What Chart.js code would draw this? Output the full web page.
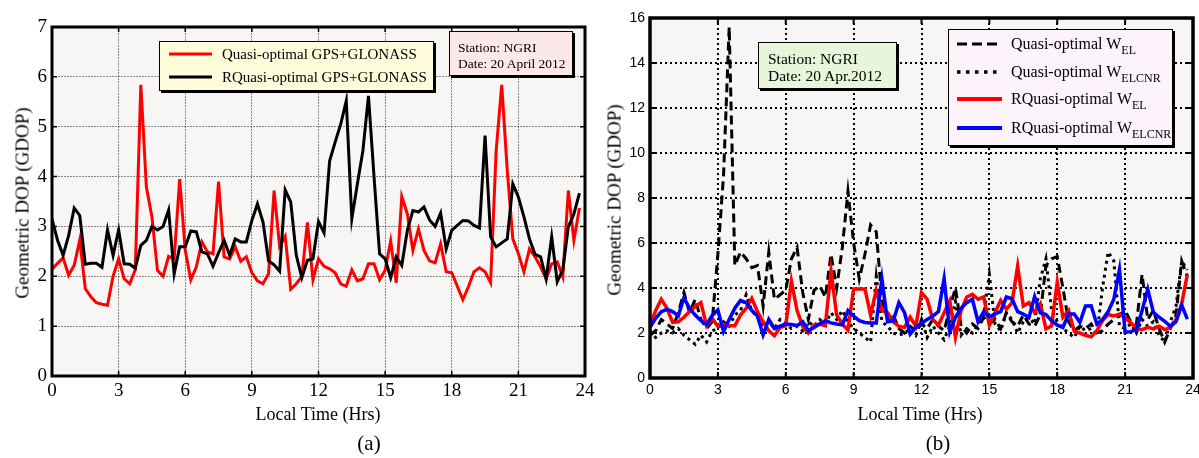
<!DOCTYPE html>
<html>
<head>
<meta charset="utf-8">
<script src="https://cdn.jsdelivr.net/npm/chart.js@4.4.1/dist/chart.umd.min.js"></script>
<style>
  html, body { margin:0; padding:0; background:#fff; }
  body { width:1199px; height:458px; position:relative; overflow:hidden; font-family:"Liberation Serif","DejaVu Serif",serif; color:#000; }
  canvas { position:absolute; top:0; }
  .ytitle { position:absolute; transform:translate(-50%,-50%) rotate(-90deg); white-space:nowrap; font-size:19px; line-height:19px; }
  .xtitle { position:absolute; transform:translateX(-50%); white-space:nowrap; font-size:18px; line-height:18px; }
  .panel { position:absolute; transform:translateX(-50%); font-size:21px; line-height:21px; }
  .box { position:absolute; border:1px solid #000; box-shadow:2px 2px 0 #000; box-sizing:border-box; }
  .row { position:absolute; left:0; height:20px; display:flex; align-items:center; white-space:nowrap; }
  sub { font-size:12px; vertical-align:-5px; line-height:0; }
</style>
</head>
<body>
<canvas id="cA" width="600" height="458" style="left:0"></canvas>
<canvas id="cB" width="599" height="458" style="left:600px"></canvas>

<!-- panel (a) texts -->
<div class="ytitle" style="left:22px; top:203px;">Geometric DOP (GDOP)</div>
<div class="xtitle" style="left:318px; top:405px;">Local Time (Hrs)</div>
<div class="panel" style="left:369px; top:433px;">(a)</div>

<div class="box" style="left:159px; top:41px; width:275px; height:50px; background:#fffcdc;">
  <div class="row" style="top:2px;"><svg width="53" height="20" style="margin-left:9px"><line x1="0" y1="10" x2="43" y2="10" stroke="#ff0000" stroke-width="3"/></svg><span id="legA0" style="font-size:15px;"></span></div>
  <div class="row" style="top:25px;"><svg width="53" height="20" style="margin-left:9px"><line x1="0" y1="10" x2="43" y2="10" stroke="#000" stroke-width="3"/></svg><span id="legA1" style="font-size:15px;"></span></div>
</div>

<div class="box" style="left:449px; top:31px; width:124px; height:45px; background:#fde8e8; padding:8px 0 0 8px; font-size:13.5px; line-height:16px;">
  Station: NGRI<br>Date: 20 April 2012
</div>

<!-- panel (b) texts -->
<div class="ytitle" style="left:614px; top:200px;">Geometric DOP (GDOP)</div>
<div class="xtitle" style="left:920px; top:405px;">Local Time (Hrs)</div>
<div class="panel" style="left:938px; top:433px;">(b)</div>

<div class="box" style="left:758px; top:42px; width:139px; height:47px; background:#e7f5da; padding:7px 0 0 9px; font-size:15.5px; line-height:17px;">
  Station: NGRI<br>Date: 20 Apr.2012
</div>

<div class="box" style="left:948px; top:29px; width:225px; height:117px; background:#fdf3fb; font-size:16px;">
  <div class="row" style="top:4px;"><svg width="54" height="20" style="margin-left:8px"><line x1="0" y1="10" x2="45" y2="10" stroke="#000" stroke-width="3" stroke-dasharray="10 5"/></svg><span>Quasi-optimal W<sub>EL</sub></span></div>
  <div class="row" style="top:32px;"><svg width="54" height="20" style="margin-left:8px"><line x1="0" y1="10" x2="45" y2="10" stroke="#000" stroke-width="3.5" stroke-dasharray="3.5 5.5"/></svg><span>Quasi-optimal W<sub>ELCNR</sub></span></div>
  <div class="row" style="top:59px;"><svg width="54" height="20" style="margin-left:8px"><line x1="0" y1="10" x2="45" y2="10" stroke="#ff0000" stroke-width="4"/></svg><span>RQuasi-optimal W<sub>EL</sub></span></div>
  <div class="row" style="top:88px;"><svg width="54" height="20" style="margin-left:8px"><line x1="0" y1="10" x2="45" y2="10" stroke="#0000ff" stroke-width="4"/></svg><span>RQuasi-optimal W<sub>ELCNR</sub></span></div>
</div>

<script>
// ---------- DATA ----------
// local time of each sample (hours, 15-minute sampling)
const TIMES = Array.from({length: 96}, (_, i) => i * 0.25);

const X_TICKS = [0, 3, 6, 9, 12, 15, 18, 21, 24];
const Y_TICKS_A = [0, 1, 2, 3, 4, 5, 6, 7];
const Y_TICKS_B = [0, 2, 4, 6, 8, 10, 12, 14, 16];

const SERIES_A = ['Quasi-optimal GPS+GLONASS', 'RQuasi-optimal GPS+GLONASS'];

// panel (a): Quasi-optimal GPS+GLONASS
const QUASI_A = [
  2.14,2.26,2.37,2.02,2.22,2.73,1.75,1.59,1.47,1.44,1.42,2.0,
  2.35,1.95,1.85,2.13,5.84,3.79,3.19,2.12,2.0,2.4,2.35,3.95,
  2.52,1.93,2.19,2.69,2.49,2.45,3.9,2.39,2.35,2.59,2.3,2.39,
  2.07,1.91,1.85,2.05,3.72,2.6,2.8,1.74,1.85,2.0,3.08,1.93,
  2.35,2.2,2.15,2.07,1.85,1.8,2.13,1.91,1.95,2.25,2.25,1.93,
  2.12,2.71,1.87,3.6,3.25,2.52,2.95,2.52,2.31,2.27,2.65,2.09,
  2.07,1.8,1.53,1.79,2.09,2.17,2.09,1.87,4.52,5.84,4.12,2.75,
  2.45,2.09,2.55,2.39,2.19,1.95,2.25,2.29,1.99,3.72,2.72,3.37
];
// panel (a): RQuasi-optimal GPS+GLONASS
const RQUASI_A = [
  3.15,2.72,2.42,2.82,3.37,3.22,2.24,2.26,2.26,2.18,2.93,2.42,
  2.93,2.25,2.24,2.16,2.62,2.72,3.0,2.93,3.0,3.33,2.05,2.59,
  2.59,2.91,2.89,2.49,2.45,2.2,2.47,2.72,2.42,2.75,2.69,2.69,
  3.12,3.45,3.09,2.31,2.23,2.1,3.73,3.49,2.42,1.97,2.32,2.35,
  3.1,2.87,4.31,4.69,5.05,5.52,3.15,3.85,4.52,5.62,4.0,2.45,
  2.35,1.97,2.39,2.22,2.92,3.32,3.29,3.39,3.13,3.0,3.27,2.55,
  2.92,3.02,3.12,3.11,3.02,2.97,4.82,2.79,2.59,2.67,2.75,3.85,
  3.59,3.19,2.75,2.44,2.39,1.95,2.79,1.89,2.13,2.99,3.25,3.67
];

// panel (b): Quasi-optimal W_EL (dashed)
const QUASI_WEL = [
  1.9,2.1,2.6,2.4,2.2,2.9,3.8,2.9,3.5,2.6,2.2,2.5,
  5.5,9.0,15.6,5.0,5.6,5.3,4.9,5.0,3.2,5.6,3.5,3.7,
  3.9,5.3,5.8,3.8,2.6,3.9,4.1,3.6,5.5,4.0,5.8,8.3,
  6.0,4.4,5.5,6.8,6.5,3.5,2.6,2.8,2.2,2.0,2.3,2.1,
  2.4,2.2,2.6,2.3,2.1,3.1,4.0,2.3,2.0,2.4,2.2,2.7,
  2.4,2.6,2.2,2.9,2.5,2.3,2.8,2.4,2.3,2.8,5.0,5.3,
  5.4,4.0,2.5,2.1,2.3,2.2,2.4,2.0,2.1,2.4,2.6,2.8,
  3.0,2.5,2.4,4.6,2.6,3.0,2.2,1.6,2.2,2.8,5.2,4.5
];
// panel (b): Quasi-optimal W_ELCNR (dotted)
const QUASI_WELCNR = [
  2.1,1.8,2.0,2.1,2.0,2.2,1.9,1.7,1.5,1.9,1.6,2.1,
  2.2,2.5,2.3,2.8,3.0,3.7,3.0,2.7,2.3,2.5,2.2,2.6,
  2.4,2.2,2.3,2.1,2.5,2.3,2.6,2.4,2.9,2.6,3.0,2.5,
  2.2,2.0,1.8,1.6,4.5,2.5,2.3,2.0,1.9,2.0,2.2,1.9,
  2.6,1.8,2.3,2.0,1.7,2.3,3.4,1.9,2.2,2.0,2.4,2.8,
  4.6,2.4,2.1,2.9,2.6,2.0,2.5,2.7,2.4,4.4,5.3,3.0,
  2.5,2.2,2.0,1.8,2.3,2.1,2.2,1.9,4.0,5.6,5.2,2.3,
  2.2,2.4,2.0,2.6,2.3,2.5,1.9,1.6,2.5,3.2,5.2,4.8
];
// panel (b): RQuasi-optimal W_EL (red)
const RQUASI_WEL = [
  2.32,3.0,3.5,3.1,2.47,2.5,2.7,2.95,3.18,3.35,2.32,2.65,
  2.3,2.4,2.32,2.32,2.8,3.1,3.54,2.95,2.5,2.1,1.88,2.25,
  2.32,4.31,3.0,2.3,2.0,2.35,2.4,2.32,4.75,2.8,2.4,2.13,
  3.96,3.96,3.96,2.8,3.9,3.0,2.9,2.5,2.3,2.25,2.7,2.3,
  3.8,3.5,2.6,2.35,2.9,3.43,1.81,3.0,3.6,3.72,3.5,3.6,
  2.35,2.9,3.45,3.06,3.35,4.97,3.2,3.35,2.91,3.3,2.18,2.32,
  4.26,2.7,3.0,2.08,2.0,1.9,1.83,2.1,2.55,2.82,2.76,2.84,
  2.68,2.45,2.2,2.15,2.25,2.18,2.3,2.15,2.25,2.6,3.3,4.6
];
// panel (b): RQuasi-optimal W_ELCNR (blue)
const RQUASI_WELCNR = [
  2.25,2.65,2.95,3.05,2.95,2.76,3.57,3.1,2.8,2.55,2.38,2.78,
  3.03,2.06,2.6,3.1,3.45,3.35,3.0,2.75,1.91,2.6,2.2,2.3,
  2.4,2.38,2.33,2.5,2.1,2.25,2.4,2.55,2.45,2.4,2.36,3.0,
  2.75,2.55,2.47,2.44,2.44,4.41,2.5,2.54,3.35,2.9,1.95,2.25,
  2.45,2.6,2.75,2.95,4.41,2.05,2.7,3.1,3.35,3.5,2.5,2.95,
  2.72,2.85,2.95,3.6,3.52,2.95,2.84,2.69,3.62,2.9,2.82,2.55,
  2.35,2.25,2.84,2.84,2.47,3.2,3.21,2.4,2.6,2.95,3.5,4.82,
  2.03,2.06,2.15,3.0,3.94,2.92,2.7,2.52,2.3,2.5,3.24,2.62
];

// ---------- CHARTS ----------
document.getElementById('legA0').textContent = SERIES_A[0];
document.getElementById('legA1').textContent = SERIES_A[1];

const pts = (xs, ys) => ys.map((y, i) => ({x: xs[i], y}));

const framePlugin = {
  id: 'frame',
  beforeDraw(chart, args, o) {
    const {ctx, chartArea: a} = chart;
    ctx.save();
    ctx.fillStyle = o.bg;
    ctx.fillRect(a.left, a.top, a.right - a.left, a.bottom - a.top);
    ctx.restore();
  },
  afterDatasetsDraw(chart, args, o) {
    const {ctx, chartArea: a, scales} = chart;
    ctx.save();
    ctx.strokeStyle = '#000';
    ctx.lineWidth = o.tickWidth;
    ctx.beginPath();
    scales.x.ticks.forEach(t => {
      const p = scales.x.getPixelForValue(t.value);
      ctx.moveTo(p, a.bottom); ctx.lineTo(p, a.bottom - o.tick);
      ctx.moveTo(p, a.top); ctx.lineTo(p, a.top + o.tick);
    });
    scales.y.ticks.forEach(t => {
      const p = scales.y.getPixelForValue(t.value);
      ctx.moveTo(a.left, p); ctx.lineTo(a.left + o.tick, p);
      ctx.moveTo(a.right, p); ctx.lineTo(a.right - o.tick, p);
    });
    ctx.stroke();
    ctx.lineWidth = o.width;
    ctx.strokeRect(a.left, a.top, a.right - a.left, a.bottom - a.top);
    ctx.restore();
  }
};

function axisX(font, grid, dash, h) {
  return {
    type: 'linear', min: 0, max: 24,
    afterBuildTicks(s) { s.ticks = X_TICKS.map(v => ({value: v})); },
    ticks: {font, color: '#000', padding: 4, maxRotation: 0, autoSkip: false},
    grid: Object.assign({drawTicks: false}, grid),
    border: {display: false, dash},
    afterFit(s) { s.height = h; s.paddingLeft = 0; s.paddingRight = 0; }
  };
}
function axisY(ticksArr, max, font, grid, dash, w) {
  return {
    type: 'linear', min: 0, max,
    afterBuildTicks(s) { s.ticks = ticksArr.map(v => ({value: v})); },
    ticks: {font, color: '#000', padding: 5, autoSkip: false},
    grid: Object.assign({drawTicks: false}, grid),
    border: {display: false, dash},
    afterFit(s) { s.width = w; s.paddingTop = 0; s.paddingBottom = 0; }
  };
}

const fontA = {family: 'Liberation Serif', size: 19};
const gridA = {color: 'rgba(0,0,0,0.45)', lineWidth: 1};

new Chart(document.getElementById('cA'), {
  type: 'line',
  data: {
    datasets: [
      {label: SERIES_A[1], data: pts(TIMES, RQUASI_A), borderColor: '#000000', borderWidth: 3, pointRadius: 0, tension: 0, order: 0},
      {label: SERIES_A[0], data: pts(TIMES, QUASI_A), borderColor: '#ff0000', borderWidth: 3, pointRadius: 0, tension: 0, order: 1}
    ]
  },
  options: {
    responsive: false, animation: false, events: [],
    layout: {padding: {left: 0, top: 27, right: 15, bottom: 0}},
    plugins: {legend: {display: false}, tooltip: {enabled: false},
      frame: {bg: '#f8f5f5', width: 3, tick: 5, tickWidth: 1.5}},
    scales: {
      x: axisX(fontA, gridA, [2, 1], 82),
      y: axisY(Y_TICKS_A, 7, fontA, gridA, [2, 1], 52)
    }
  },
  plugins: [framePlugin]
});

const fontB = {family: 'Liberation Sans', size: 14};
const gridB = {color: '#000', lineWidth: 2};

new Chart(document.getElementById('cB'), {
  type: 'line',
  data: {
    datasets: [
      {label: 'RQuasi-optimal W_ELCNR', data: pts(TIMES, RQUASI_WELCNR), borderColor: '#0000ff', borderWidth: 3.5, pointRadius: 0, tension: 0, order: 0},
      {label: 'RQuasi-optimal W_EL', data: pts(TIMES, RQUASI_WEL), borderColor: '#ff0000', borderWidth: 3.5, pointRadius: 0, tension: 0, order: 1},
      {label: 'Quasi-optimal W_ELCNR', data: pts(TIMES, QUASI_WELCNR), borderColor: '#000000', borderWidth: 3, borderDash: [3, 4], pointRadius: 0, tension: 0, order: 2},
      {label: 'Quasi-optimal W_EL', data: pts(TIMES, QUASI_WEL), borderColor: '#000000', borderWidth: 3, borderDash: [9, 5], pointRadius: 0, tension: 0, order: 3}
    ]
  },
  options: {
    responsive: false, animation: false, events: [],
    layout: {padding: {left: 0, top: 18, right: 6, bottom: 0}},
    plugins: {legend: {display: false}, tooltip: {enabled: false},
      frame: {bg: '#f8f5f5', width: 3.5, tick: 6, tickWidth: 2}},
    scales: {
      x: axisX(fontB, gridB, [2, 3], 80),
      y: axisY(Y_TICKS_B, 16, fontB, gridB, [2, 3], 50)
    }
  },
  plugins: [framePlugin]
});
</script>
</body>
</html>
